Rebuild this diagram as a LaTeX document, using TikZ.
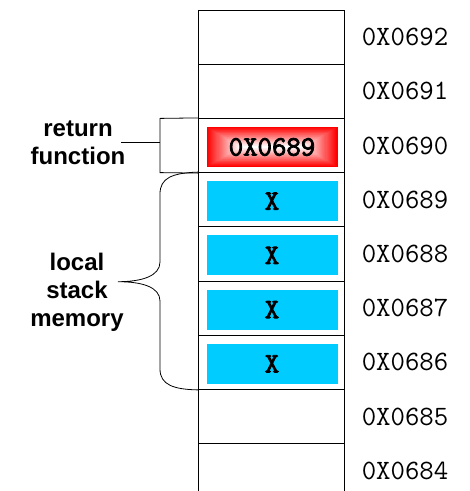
\documentclass[tikz,border=0pt]{standalone}
\usepackage{fontspec}
\setmainfont{Liberation Sans}
\newfontfamily\boldtt{Latin Modern Mono}[FakeBold=3]
\usetikzlibrary{calc}
\definecolor{cellblue}{RGB}{0,204,255}
\begin{document}
\begin{tikzpicture}[x=1pt,y=-1pt,
  cell/.style={draw=black, line width=1pt, minimum width=146pt, minimum height=54.2pt, inner sep=0pt},
  addr/.style={font=\ttfamily\fontsize{28}{30}\selectfont, inner sep=0pt},
  bluebox/.style={fill=cellblue, minimum width=131pt, minimum height=40pt, inner sep=0pt,
    font=\boldtt\fontsize{28}{30}\selectfont},
  redbox/.style={minimum width=131pt, minimum height=40pt, inner sep=0pt,
    font=\boldtt\fontsize{28}{30}\selectfont},
  lbl/.style={font=\bfseries\fontsize{24}{28}\selectfont, align=center, inner sep=0pt},
  thin/.style={line width=0.8pt}]
\useasboundingbox (0,0) rectangle (470,491);
% memory cells
\node[cell] (c1) at (271.5,37.1) {};
\node[cell] (c2) at (271.5,91.3) {};
\node[cell] (c3) at (271.5,145.5) {};
\node[cell] (c4) at (271.5,199.7) {};
\node[cell] (c5) at (271.5,253.9) {};
\node[cell] (c6) at (271.5,308.1) {};
\node[cell] (c7) at (271.5,362.3) {};
\node[cell] (c8) at (271.5,416.5) {};
\node[cell] (c9) at (271.5,470.7) {};
% addresses
\node[addr] (a1) at (405,37.1) {0X0692};
\node[addr] (a2) at (405,91.3) {0X0691};
\node[addr] (a3) at (405,145.5) {0X0690};
\node[addr] (a4) at (405,199.7) {0X0689};
\node[addr] (a5) at (405,253.9) {0X0688};
\node[addr] (a6) at (405,308.1) {0X0687};
\node[addr] (a7) at (405,362.3) {0X0686};
\node[addr] (a8) at (405,416.5) {0X0685};
\node[addr] (a9) at (405,470.7) {0X0684};
% red glowing box (rectangular gradient)
\coordinate (rc) at (272,147);
\foreach \i in {0,...,30}{
  \pgfmathsetmacro\p{100-100*\i/30}
  \pgfmathsetmacro\dy{20*\i/31}
  \pgfmathsetmacro\dx{34*\i/31}
  \fill[red!\p!white] ($(rc)+(-65.5+\dx,-20+\dy)$) rectangle ($(rc)+(65.5-\dx,20-\dy)$);
}
\node[redbox] (r3) at (rc) {0X0689};
% blue boxes
\node[bluebox] (b4) at (272,201.2) {X};
\node[bluebox] (b5) at (272,255.4) {X};
\node[bluebox] (b6) at (272,309.6) {X};
\node[bluebox] (b7) at (272,363.8) {X};
% labels
\node[lbl] (rf) at (78,143) {return\\function};
\node[lbl] (ls) at (77,292) {local\\stack\\memory};
% return function bracket
\coordinate (rt) at (121,142.3);
\coordinate (rk) at (160,142.3);
\draw[thin] (c3.north west) -- (160,118.4) -- (160,172.6) -- (c3.south west);
\draw[thin] (rt) -- (rk);
% brace
\coordinate (tip) at (118,281.7);
\draw[thin] (c4.north west) .. controls (172,173) and (160,178) .. (160,194)
  -- (160,262) .. controls (160,276) and (142,281.7) .. (tip)
  .. controls (142,281.7) and (160,287) .. (160,301)
  -- (160,369) .. controls (160,385) and (174,389.4) .. (c7.south west);
\end{tikzpicture}
\end{document}
